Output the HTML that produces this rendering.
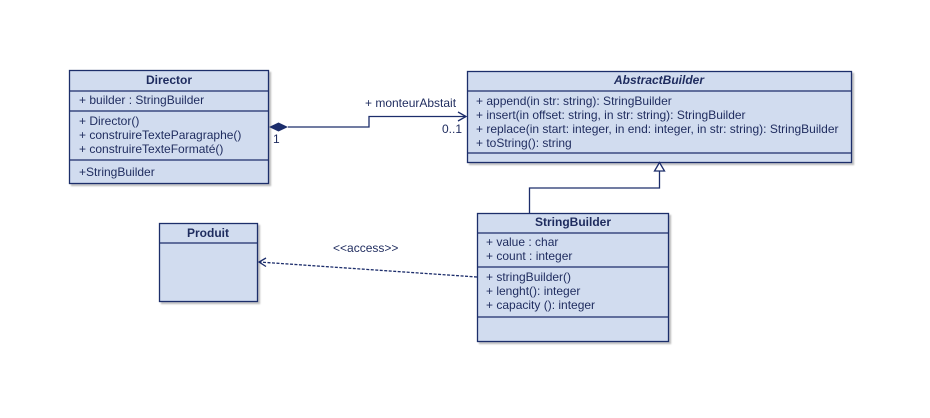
<!DOCTYPE html>
<html><head><meta charset="utf-8"><style>
html,body{margin:0;padding:0;background:#fff;width:930px;height:418px;overflow:hidden}
text{font-family:"Liberation Sans",sans-serif;font-size:12px;fill:#1e2b5e}
.b{font-weight:bold}
</style></head><body>
<svg width="930" height="418" xmlns="http://www.w3.org/2000/svg">
<defs><filter id="s" x="-5%" y="-5%" width="110%" height="110%"><feDropShadow dx="2" dy="2" stdDeviation="0.8" flood-color="#000" flood-opacity="0.25"/></filter></defs>
<g fill="#d1dcef" stroke="#1c2d6b" stroke-width="1.3" filter="url(#s)">
<rect x="69.5" y="70.5" width="199" height="113"/>
<rect x="467.5" y="71.5" width="384" height="91"/>
<rect x="477.5" y="213.5" width="191" height="128"/>
<rect x="159.5" y="223.5" width="98" height="78"/>
</g>
<g stroke="#1c2d6b" stroke-width="1.3" fill="none">
<line x1="69.5" y1="91" x2="268.5" y2="91"/>
<line x1="69.5" y1="111" x2="268.5" y2="111"/>
<line x1="69.5" y1="160" x2="268.5" y2="160"/>
<line x1="467.5" y1="91" x2="851.5" y2="91"/>
<line x1="467.5" y1="153" x2="851.5" y2="153"/>
<line x1="477.5" y1="233" x2="668.5" y2="233"/>
<line x1="477.5" y1="267" x2="668.5" y2="267"/>
<line x1="477.5" y1="317" x2="668.5" y2="317"/>
<line x1="159.5" y1="243" x2="257.5" y2="243"/>
<polyline points="288,127 369,127 369,116.5 466,116.5"/>
<polyline points="458,112 466,116.5 458,121"/>
<polyline points="529.5,213 529.5,188 659.5,188 659.5,171"/>
<polygon points="659.5,162.5 654.5,171 664.5,171" fill="#fff"/>
<line x1="477" y1="277" x2="259" y2="262" stroke-dasharray="3,1.5"/>
<polyline points="266,258 259,262 266,266.5"/>
</g>
<polygon points="269,127 278.5,122.5 288,127 278.5,131.5" fill="#1c2d6b"/>
<text class="b" x="169" y="84" text-anchor="middle">Director</text>
<text x="79" y="104">+ builder : StringBuilder</text>
<text x="79" y="125">+ Director()</text>
<text x="79" y="139">+ construireTexteParagraphe()</text>
<text x="79" y="153">+ construireTexteFormaté()</text>
<text x="79" y="176">+StringBuilder</text>
<text class="b" x="659" y="84" text-anchor="middle" font-style="italic">AbstractBuilder</text>
<text x="476" y="105">+ append(in str: string): StringBuilder</text>
<text x="476" y="119">+ insert(in offset: string, in str: string): StringBuilder</text>
<text x="476" y="133">+ replace(in start: integer, in end: integer, in str: string): StringBuilder</text>
<text x="476" y="147">+ toString(): string</text>
<text class="b" x="573" y="226" text-anchor="middle">StringBuilder</text>
<text x="486" y="246">+ value : char</text>
<text x="486" y="260">+ count : integer</text>
<text x="486" y="281">+ stringBuilder()</text>
<text x="486" y="295">+ lenght(): integer</text>
<text x="486" y="309">+ capacity (): integer</text>
<text class="b" x="208" y="237" text-anchor="middle">Produit</text>
<text x="365" y="107">+ monteurAbstait</text>
<text x="442" y="133">0..1</text>
<text x="273" y="143">1</text>
<text x="333" y="252">&lt;&lt;access&gt;&gt;</text>
</svg>
</body></html>
